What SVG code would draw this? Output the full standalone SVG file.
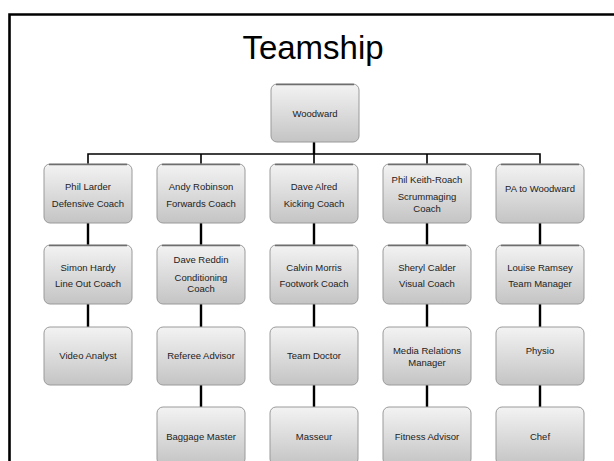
<svg xmlns="http://www.w3.org/2000/svg" width="614" height="461" viewBox="0 0 614 461">
<defs>
<linearGradient id="g" x1="0" y1="0" x2="0" y2="1">
<stop offset="0" stop-color="#f3f3f3"/>
<stop offset="1" stop-color="#c4c4c4"/>
</linearGradient>
<style>
.box{fill:url(#g);stroke:#9a9a9a;stroke-width:1}
.edge{fill:none;stroke:#6e6e6e;stroke-width:1.6}
text{font-family:"Liberation Sans",Arial,sans-serif;font-size:9.5px;fill:#222;text-anchor:middle}
.title{font-size:33px;fill:#000}
.bus{stroke:#000;stroke-width:1.6;fill:none}
.stem{stroke:#000;stroke-width:2.4;fill:none}
</style>
</defs>
<rect width="614" height="461" fill="#fff"/>
<path d="M9.5,461 V14.5 H614" fill="none" stroke="#000" stroke-width="2.6"/>
<text class="title" x="313" y="59">Teamship</text>
<g id="connectors">
<path class="stem" d="M314,142 V154"/>
<path class="bus" d="M88,164 V154 H540 V164 M201,154 V164 M314,154 V164 M427,154 V164"/>
<path class="stem" d="M88,223 V245 M201,223 V245 M314,223 V245 M427,223 V245 M540,223 V245"/>
<path class="stem" d="M88,304 V327 M201,304 V327 M314,304 V327 M427,304 V327 M540,304 V327"/>
<path class="stem" d="M201,385 V407 M314,385 V407 M427,385 V407 M540,385 V407"/>
</g>
<g id="n-woodward"><rect class="box" x="271" y="84" width="88" height="58" rx="6"/><path class="edge" d="M276,84.5 H354"/><text x="315" y="117">Woodward</text></g>

<g id="n-larder"><rect class="box" x="44" y="164" width="88" height="59" rx="6"/><path class="edge" d="M49,164.5 H127"/><text x="88" y="190">Phil Larder</text><text x="88" y="207">Defensive Coach</text></g>
<g id="n-robinson"><rect class="box" x="157" y="164" width="88" height="59" rx="6"/><path class="edge" d="M162,164.5 H240"/><text x="201" y="190">Andy Robinson</text><text x="201" y="207">Forwards Coach</text></g>
<g id="n-alred"><rect class="box" x="270" y="164" width="88" height="59" rx="6"/><path class="edge" d="M275,164.5 H353"/><text x="314" y="190">Dave Alred</text><text x="314" y="207">Kicking Coach</text></g>
<g id="n-keithroach"><rect class="box" x="383" y="164" width="88" height="59" rx="6"/><path class="edge" d="M388,164.5 H466"/><text x="427" y="183">Phil Keith-Roach</text><text x="427" y="200">Scrummaging</text><text x="427" y="212">Coach</text></g>
<g id="n-pa"><rect class="box" x="496" y="164" width="88" height="59" rx="6"/><path class="edge" d="M501,164.5 H579"/><text x="540" y="192">PA to Woodward</text></g>

<g id="n-hardy"><rect class="box" x="44" y="245" width="88" height="59" rx="6"/><path class="edge" d="M49,245.5 H127"/><text x="88" y="271">Simon Hardy</text><text x="88" y="287">Line Out Coach</text></g>
<g id="n-reddin"><rect class="box" x="157" y="245" width="88" height="59" rx="6"/><path class="edge" d="M162,245.5 H240"/><text x="201" y="263">Dave Reddin</text><text x="201" y="281">Conditioning</text><text x="201" y="292">Coach</text></g>
<g id="n-morris"><rect class="box" x="270" y="245" width="88" height="59" rx="6"/><path class="edge" d="M275,245.5 H353"/><text x="314" y="271">Calvin Morris</text><text x="314" y="287">Footwork Coach</text></g>
<g id="n-calder"><rect class="box" x="383" y="245" width="88" height="59" rx="6"/><path class="edge" d="M388,245.5 H466"/><text x="427" y="271">Sheryl Calder</text><text x="427" y="287">Visual Coach</text></g>
<g id="n-ramsey"><rect class="box" x="496" y="245" width="88" height="59" rx="6"/><path class="edge" d="M501,245.5 H579"/><text x="540" y="271">Louise Ramsey</text><text x="540" y="287">Team Manager</text></g>

<g id="n-video"><rect class="box" x="44" y="327" width="88" height="58" rx="6"/><text x="88" y="359">Video Analyst</text></g>
<g id="n-referee"><rect class="box" x="157" y="327" width="88" height="58" rx="6"/><text x="201" y="359">Referee Advisor</text></g>
<g id="n-doctor"><rect class="box" x="270" y="327" width="88" height="58" rx="6"/><text x="314" y="359">Team Doctor</text></g>
<g id="n-media"><rect class="box" x="383" y="327" width="88" height="58" rx="6"/><text x="427" y="354">Media Relations</text><text x="427" y="366">Manager</text></g>
<g id="n-physio"><rect class="box" x="496" y="327" width="88" height="58" rx="6"/><text x="540" y="354">Physio</text></g>

<g id="n-baggage"><rect class="box" x="157" y="407" width="88" height="58" rx="6"/><text x="201" y="440">Baggage Master</text></g>
<g id="n-masseur"><rect class="box" x="270" y="407" width="88" height="58" rx="6"/><text x="314" y="440">Masseur</text></g>
<g id="n-fitness"><rect class="box" x="383" y="407" width="88" height="58" rx="6"/><text x="427" y="440">Fitness Advisor</text></g>
<g id="n-chef"><rect class="box" x="496" y="407" width="88" height="58" rx="6"/><text x="540" y="440">Chef</text></g>
</svg>
